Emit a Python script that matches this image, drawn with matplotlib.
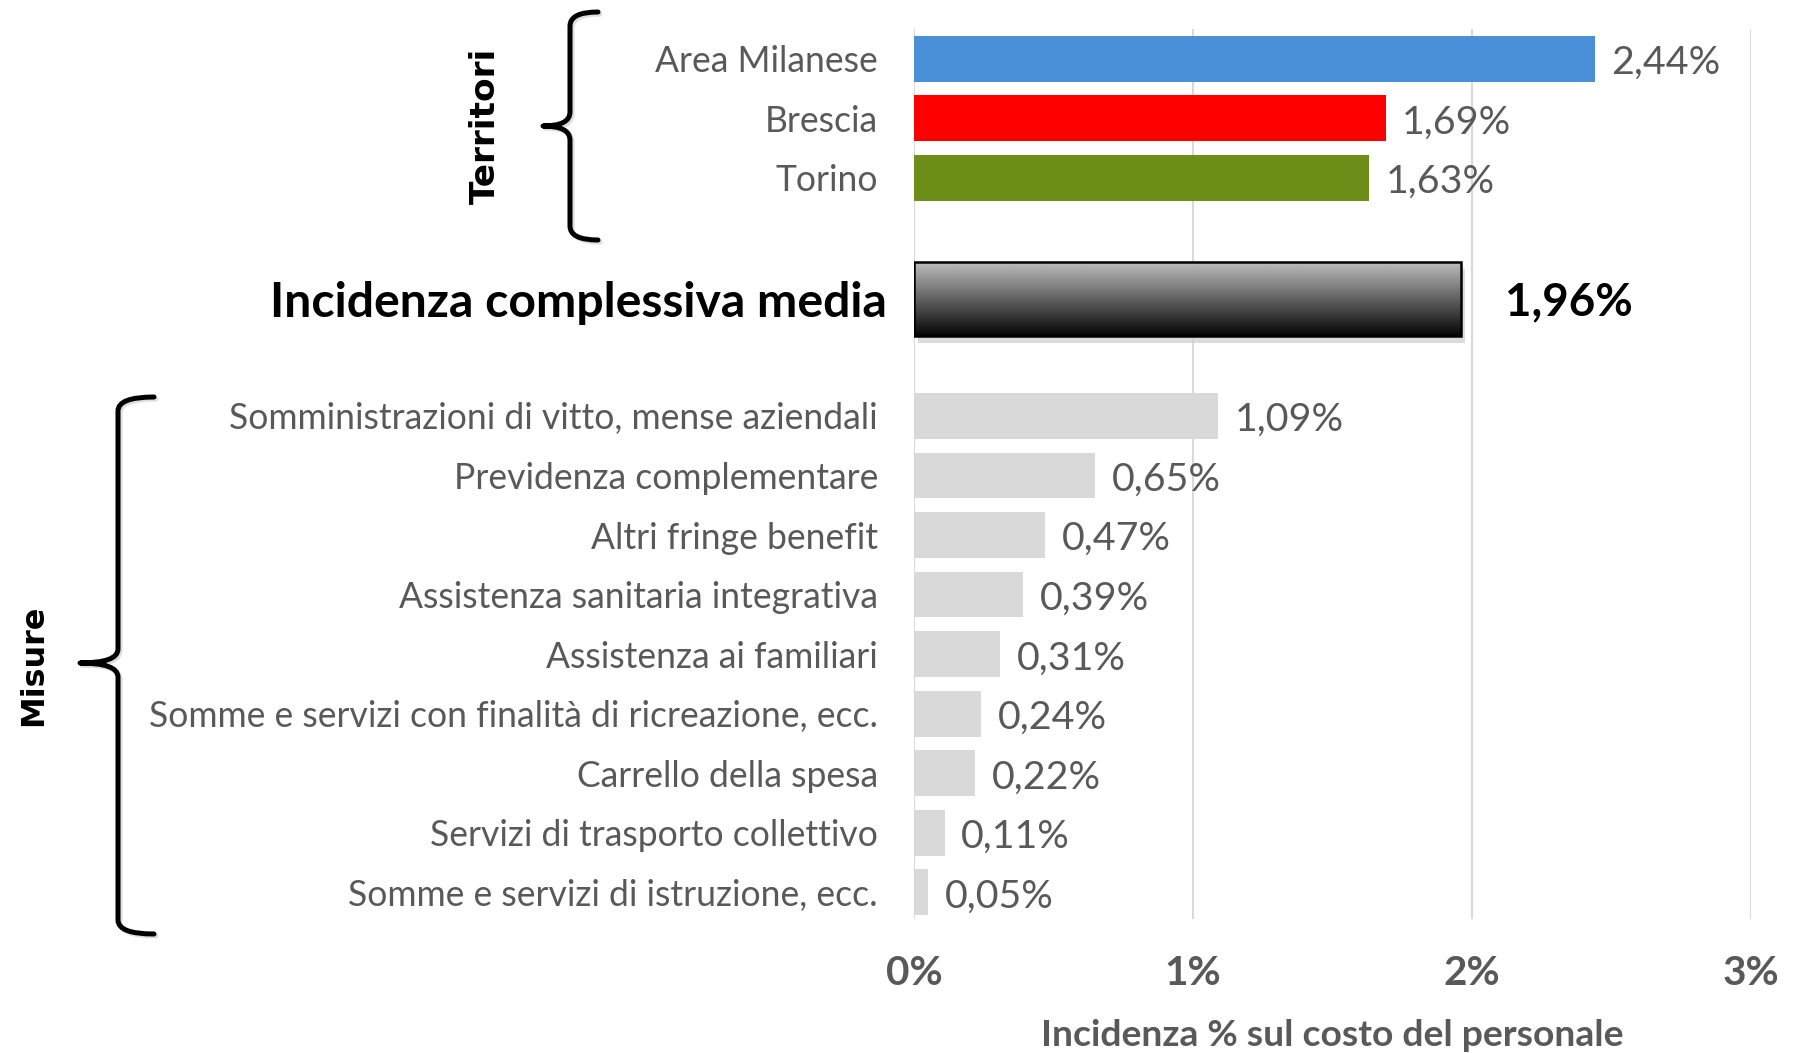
import numpy as np
import matplotlib
matplotlib.use("Agg")
import matplotlib.pyplot as plt
from matplotlib.path import Path
from matplotlib.patches import PathPatch
from matplotlib.transforms import ScaledTranslation
import matplotlib.patheffects as pe

# data
territori = ["Area Milanese", "Brescia", "Torino"]
territori_val = [2.44, 1.69, 1.63]
territori_col = ["#4A90D9", "#FF0000", "#6E8E1A"]

media_label = "Incidenza complessiva media"
media_val = 1.96

misure = ["Somministrazioni di vitto, mense aziendali",
          "Previdenza complementare",
          "Altri fringe benefit",
          "Assistenza sanitaria integrativa",
          "Assistenza ai familiari",
          "Somme e servizi con finalità di ricreazione, ecc.",
          "Carrello della spesa",
          "Servizi di trasporto collettivo",
          "Somme e servizi di istruzione, ecc."]
misure_val = [1.09, 0.65, 0.47, 0.39, 0.31, 0.24, 0.22, 0.11, 0.05]

xticks = [0, 1, 2, 3]
xlabel = "Incidenza % sul costo del personale"

plt.rcParams["font.family"] = ["Lato", "DejaVu Sans"]

W, H = 1798, 1053
fig = plt.figure(figsize=(W / 100, H / 100), dpi=100)
ren = fig.canvas.get_renderer()


def fit(txt, target, **kw):
    # font size that gives the text the width seen in the reference
    t = fig.text(0, 0, txt, fontsize=20, **kw)
    w = t.get_window_extent(renderer=ren).width
    t.remove()
    return 20 * target / w


def px(x, y):
    return x / W, 1 - y / H


GRAY = "#595959"
ax = fig.add_axes([914 / W, 1 - 919 / H, (1751 - 914) / W, (919 - 29) / H])

pos_t = np.arange(len(territori))
pos_m = 4.03
pos_s = 6 + np.arange(len(misure))

bh = 0.77
ax.barh(pos_t, territori_val, height=bh, color=territori_col, zorder=3)
ax.barh(pos_s, misure_val, height=bh, color="#D9D9D9", zorder=3)

# media bar with gradient
mh = 1.24
mb = ax.barh([pos_m], [media_val], height=mh, facecolor="none",
             edgecolor="black", linewidth=1.8, zorder=4)[0]
shadow = ax.barh([pos_m], [media_val], height=mh, color="#d2d2d2", zorder=2,
                 alpha=0.8)[0]
shadow.set_transform(ax.transData + ScaledTranslation(3 / 72, -5 / 72, fig.dpi_scale_trans))
grad = np.linspace(0.74, 0.02, 256).reshape(-1, 1)
im = ax.imshow(grad, cmap="gray", vmin=0, vmax=1, aspect="auto",
               extent=(0, media_val, pos_m + mh / 2, pos_m - mh / 2),
               interpolation="bicubic", zorder=3)
im.set_clip_path(mb)

ax.set_xlim(0, 3)
ax.set_ylim(14.45, -0.5)
ax.set_aspect("auto")

# grid
ax.set_axisbelow(True)
ax.set_xticks(xticks)
ax.xaxis.grid(True, color="#D9D9D9", linewidth=1.5)
for s in ax.spines.values():
    s.set_visible(False)

fs_cat = fit(misure[5], 731)
fs_val = fit("2,44%", 109)
fs_med = fit(media_label, 618, fontweight="bold")
fs_medv = fit("1,96%", 128, fontweight="bold")
fs_tick = fit("0%", 57, fontweight="bold")
fs_xl = fit(xlabel, 583, fontweight="bold")

ax.set_xticklabels([f"{t}%" for t in xticks], fontsize=fs_tick,
                   fontweight="bold", color=GRAY)
ax.tick_params(axis="x", length=0, pad=26)

ytick_pos = list(pos_t) + [pos_m] + list(pos_s)
ytick_lab = territori + [media_label] + misure
ax.set_yticks(ytick_pos)
ax.set_yticklabels(ytick_lab, fontsize=fs_cat, color=GRAY)
ax.tick_params(axis="y", length=0, pad=26)
ml = ax.get_yticklabels()[len(territori)]
ml.set_fontsize(fs_med)
ml.set_fontweight("bold")
ml.set_color("black")
ml.set_transform(ml.get_transform() + ScaledTranslation(9 / 100, 0, fig.dpi_scale_trans))

ax.set_xlabel(xlabel, fontsize=fs_xl, fontweight="bold", color=GRAY, va="center")
ax.xaxis.set_label_coords(0.5, (919 - 1035) / (919 - 29))


def fmt(v):
    return f"{v:.2f}".replace(".", ",") + "%"


for p, v in list(zip(pos_t, territori_val)) + list(zip(pos_s, misure_val)):
    ax.annotate(fmt(v), (v, p), xytext=(12, -3), textcoords="offset points",
                va="center", ha="left", fontsize=fs_val, color=GRAY)
ax.annotate(fmt(media_val), (media_val, pos_m), xytext=(32, -3),
            textcoords="offset points", va="center", ha="left",
            fontsize=fs_medv, fontweight="bold", color="black")


# braces
def brace(xl, top, bot, tip, xend, xtip, r=14):
    pts = [(xend, top), (xl, top), (xl, top + r),
           (xl, tip - r), (xl, tip), (xtip, tip),
           (xl, tip), (xl, tip + r),
           (xl, bot - r), (xl, bot), (xend, bot)]
    codes = [Path.MOVETO, Path.CURVE3, Path.CURVE3, Path.LINETO,
             Path.CURVE3, Path.CURVE3, Path.CURVE3, Path.CURVE3,
             Path.LINETO, Path.CURVE3, Path.CURVE3]
    path = Path([px(*p) for p in pts], codes)
    patch = PathPatch(path, facecolor="none", edgecolor="black", lw=3.6,
                      capstyle="round", joinstyle="round",
                      transform=fig.transFigure)
    patch.set_path_effects([pe.SimpleLineShadow(offset=(1.5, -1.5), alpha=0.25,
                                                shadow_color="gray"),
                            pe.Normal()])
    fig.add_artist(patch)


brace(570, 12, 240, 126, 598, 543)
brace(118, 397, 934, 663, 154, 80)

fs_ter = fit("Territori", 157, family="DejaVu Sans", fontweight="bold")
fs_mis = fit("Misure", 122, family="DejaVu Sans", fontweight="bold")
fig.text(*px(485, 126), "Territori", rotation=90, ha="center", va="center",
         family="DejaVu Sans", fontweight="bold", fontsize=fs_ter)
fig.text(*px(34, 665), "Misure", rotation=90, ha="center", va="center",
         family="DejaVu Sans", fontweight="bold", fontsize=fs_mis)

fig.savefig("out.png", dpi=100)
